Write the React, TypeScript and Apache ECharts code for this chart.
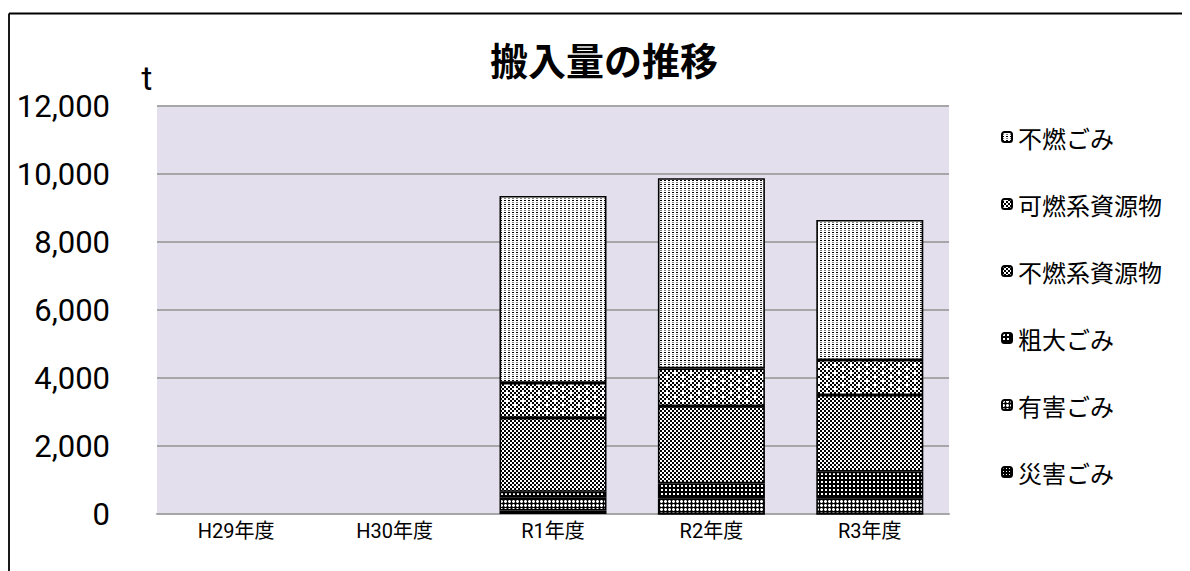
import React, { useEffect, useRef } from 'react';
import * as echarts from 'echarts';

// ---- data ----
const categories = ['H29年度', 'H30年度', 'R1年度', 'R2年度', 'R3年度'];
const saigai = [null, null, 100, 0, 0];          // 災害ごみ
const yugai = [null, null, 380, 460, 460];       // 有害ごみ
const sodai = [null, null, 175, 440, 785];       // 粗大ごみ
const funenShigen = [null, null, 2170, 2275, 2255]; // 不燃系資源物
const kanenShigen = [null, null, 1030, 1110, 1030]; // 可燃系資源物
const funen = [null, null, 5500, 5590, 4120];    // 不燃ごみ
const yMin = 0;
const yMax = 12000;
const yStep = 2000;
const legendOrder = ['不燃ごみ', '可燃系資源物', '不燃系資源物', '粗大ごみ', '有害ごみ', '災害ごみ'];

const PIX: Record<string, string> = { K: '#000000', G: '#808080', L: '#c8c8c8', W: '#ffffff' };

function makeTile(rows: string[]) {
  const h = rows.length;
  const w = rows[0].length;
  const c = document.createElement('canvas');
  c.width = w;
  c.height = h;
  const ctx = c.getContext('2d')!;
  for (let y = 0; y < h; y++) {
    for (let x = 0; x < w; x++) {
      ctx.fillStyle = PIX[rows[y][x]];
      ctx.fillRect(x, y, 1, 1);
    }
  }
  return { image: c.toDataURL(), repeat: 'repeat', imageWidth: w, imageHeight: h };
}

// 2px checker; even cells use `even`, odd cells `odd`; listed cells become white
function checker2(w: number, h: number, even: string, odd: string, whiteCells: [number, number][]) {
  const rows: string[] = [];
  for (let y = 0; y < h; y++) {
    let r = '';
    for (let x = 0; x < w; x++) {
      const cx = Math.floor(x / 2);
      const cy = Math.floor(y / 2);
      let ch = (cx + cy) % 2 === 0 ? even : odd;
      for (const [wx, wy] of whiteCells) if (cx === wx && cy === wy) ch = 'W';
      r += ch;
    }
    rows.push(r);
  }
  return rows;
}

export default function App() {
  const ref = useRef<HTMLDivElement>(null);
  useEffect(() => {
    if (!ref.current) return;
    const chart = echarts.init(ref.current, null, { renderer: 'svg' });

    const patterns: Record<string, any> = {
      '不燃ごみ': makeTile(['KKWW', 'WWWW', 'GGWW', 'WWWW']),
      '可燃系資源物': makeTile(checker2(16, 8, 'W', 'K', [[1, 0], [5, 2]])),
      '不燃系資源物': makeTile(checker2(4, 4, 'W', 'K', [])),
      '粗大ごみ': makeTile(['KKKK', 'KWWK', 'KWWK', 'KKKK']),
      '有害ごみ': makeTile(['GWGK', 'WWWK', 'GWGK', 'KKKK']),
      '災害ごみ': makeTile(['KKK', 'KWK', 'KKK']),
    };

    const seriesDefs: [string, (number | null)[]][] = [
      ['災害ごみ', saigai],
      ['有害ごみ', yugai],
      ['粗大ごみ', sodai],
      ['不燃系資源物', funenShigen],
      ['可燃系資源物', kanenShigen],
      ['不燃ごみ', funen],
    ];

    const narrow = "'Liberation Sans Narrow', Roboto, 'Noto Sans CJK JP', sans-serif";
    const jp = "'Noto Sans CJK JP', sans-serif";

    chart.setOption({
      animation: false,
      backgroundColor: '#ffffff',
      title: {
        text: '搬入量の推移',
        left: 482,
        top: 31,
        padding: 0,
        textStyle: { fontFamily: jp, fontSize: 38, fontWeight: 'bold', color: '#000', lineHeight: 38 },
      },
      graphic: [
        { type: 'line', shape: { x1: 1, y1: 5.5, x2: 1182, y2: 5.5 }, style: { stroke: '#000', lineWidth: 1.8 } },
        { type: 'line', shape: { x1: 1, y1: 5.5, x2: 1, y2: 563 }, style: { stroke: '#000', lineWidth: 1.8 } },
        {
          type: 'text',
          x: 139,
          y: 70,
          style: { text: 't', fontFamily: narrow, fontSize: 33, fill: '#000', textAlign: 'center', textVerticalAlign: 'middle' },
        },
      ],
      legend: {
        orient: 'vertical',
        left: 993,
        top: 117,
        padding: 0,
        itemWidth: 10,
        itemHeight: 10,
        itemGap: 43,
        data: legendOrder,
        textStyle: { fontFamily: jp, fontSize: 24, lineHeight: 24, color: '#000', padding: [0, 0, 0, 1] },
      },
      grid: {
        left: 149,
        top: 98,
        width: 792,
        height: 408,
        show: true,
        backgroundColor: '#E4DFEC',
        borderWidth: 0,
        containLabel: false,
        outerBoundsMode: 'none',
      },
      xAxis: {
        type: 'category',
        data: categories,
        axisLine: { show: true, lineStyle: { color: '#A6A6A6', width: 2 } },
        axisTick: { show: false },
        axisLabel: { fontFamily: narrow, fontSize: 20, color: '#000', margin: 7 },
      },
      yAxis: {
        type: 'value',
        min: yMin,
        max: yMax,
        interval: yStep,
        axisLine: { show: false },
        axisTick: { show: false },
        splitLine: { lineStyle: { color: '#A6A6A6', width: 2 } },
        axisLabel: {
          fontFamily: narrow,
          fontSize: 31,
          color: '#000',
          margin: 47,
          formatter: (v: number) => v.toLocaleString('en-US'),
        },
      },
      series: seriesDefs.map(([name, data]) => ({
        name,
        type: 'bar',
        stack: 'total',
        barWidth: 107,
        data,
        itemStyle: { color: patterns[name], borderColor: '#000', borderWidth: 1.6 },
        emphasis: { disabled: true },
      })),
    });
    return () => chart.dispose();
  }, []);
  return <div ref={ref} style={{ width: 1182, height: 563 }} />;
}
